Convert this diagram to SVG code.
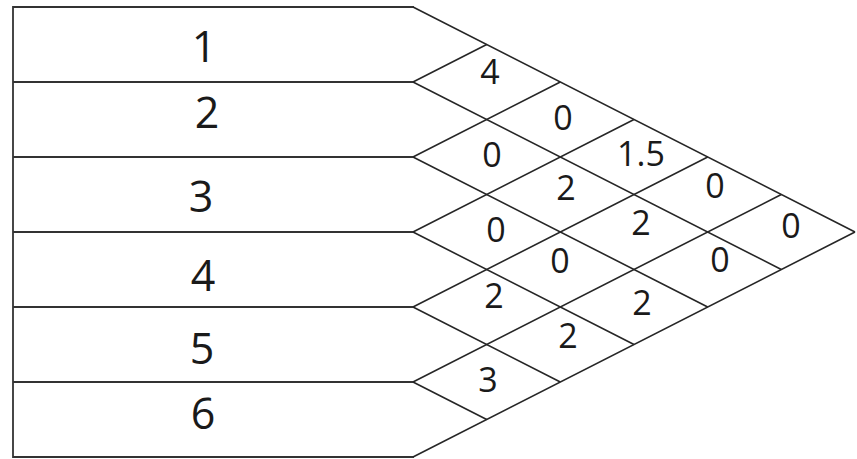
<svg xmlns="http://www.w3.org/2000/svg" width="857" height="459" viewBox="0 0 857 459">
  <style>
    .frame { fill: none; stroke: #333; stroke-width: 1.8; stroke-linecap: square; }
    .grid { fill: none; stroke: #262626; stroke-width: 1.6; }
    .row-label { font-family: "Open Sans", "Liberation Sans", sans-serif; font-size: 43px; fill: #1a1a1a; text-anchor: middle; }
    .cell-label { font-family: "Open Sans", "Liberation Sans", sans-serif; font-size: 34px; fill: #1a1a1a; text-anchor: middle; }
  </style>
  <rect width="857" height="459" fill="#ffffff"/>

  <!-- rows on the left: each band is 75px tall, left edge at x=13, right edge at x=413 -->
  <g id="row-1"><text class="row-label" x="204" y="62">1</text></g>
  <g id="row-2"><text class="row-label" x="207" y="128">2</text></g>
  <g id="row-3"><text class="row-label" x="201" y="212">3</text></g>
  <g id="row-4"><text class="row-label" x="203" y="291">4</text></g>
  <g id="row-5"><text class="row-label" x="202" y="364">5</text></g>
  <g id="row-6"><text class="row-label" x="203" y="429">6</text></g>

  <!-- grid lines: row separators and the diamond correlation roof -->
  <g id="connectors">
    <path class="frame" d="M13 7 V457 M13 7 H413 M13 82 H413 M13 157 H413 M13 232 H413 M13 307 H413 M13 382 H413 M13 457 H413"/>
    <!-- lines running down-right from each row boundary -->
    <path class="grid" d="M413 7 L855 232 M413 82 L781.3 269.5 M413 157 L707.7 307 M413 232 L634 344.5 M413 307 L560.3 382 M413 382 L486.7 419.5"/>
    <!-- lines running up-right from each row boundary -->
    <path class="grid" d="M413 457 L855 232 M413 382 L781.3 194.5 M413 307 L707.7 157 M413 232 L634 119.5 M413 157 L560.3 82 M413 82 L486.7 44.5"/>
  </g>

  <!-- correlation cells, one per pair of rows -->
  <g id="cell-1-2"><text class="cell-label" x="490" y="84">4</text></g>
  <g id="cell-1-3"><text class="cell-label" x="563" y="130">0</text></g>
  <g id="cell-2-3"><text class="cell-label" x="492" y="167">0</text></g>
  <g id="cell-1-4"><text class="cell-label" x="641" y="166">1.5</text></g>
  <g id="cell-2-4"><text class="cell-label" x="566" y="200">2</text></g>
  <g id="cell-1-5"><text class="cell-label" x="715" y="198">0</text></g>
  <g id="cell-3-4"><text class="cell-label" x="496" y="242">0</text></g>
  <g id="cell-2-5"><text class="cell-label" x="641" y="235">2</text></g>
  <g id="cell-1-6"><text class="cell-label" x="791" y="238">0</text></g>
  <g id="cell-3-5"><text class="cell-label" x="560" y="273">0</text></g>
  <g id="cell-2-6"><text class="cell-label" x="720" y="272">0</text></g>
  <g id="cell-4-5"><text class="cell-label" x="494" y="308">2</text></g>
  <g id="cell-3-6"><text class="cell-label" x="642" y="315">2</text></g>
  <g id="cell-4-6"><text class="cell-label" x="568" y="348">2</text></g>
  <g id="cell-5-6"><text class="cell-label" x="488" y="392">3</text></g>
</svg>
